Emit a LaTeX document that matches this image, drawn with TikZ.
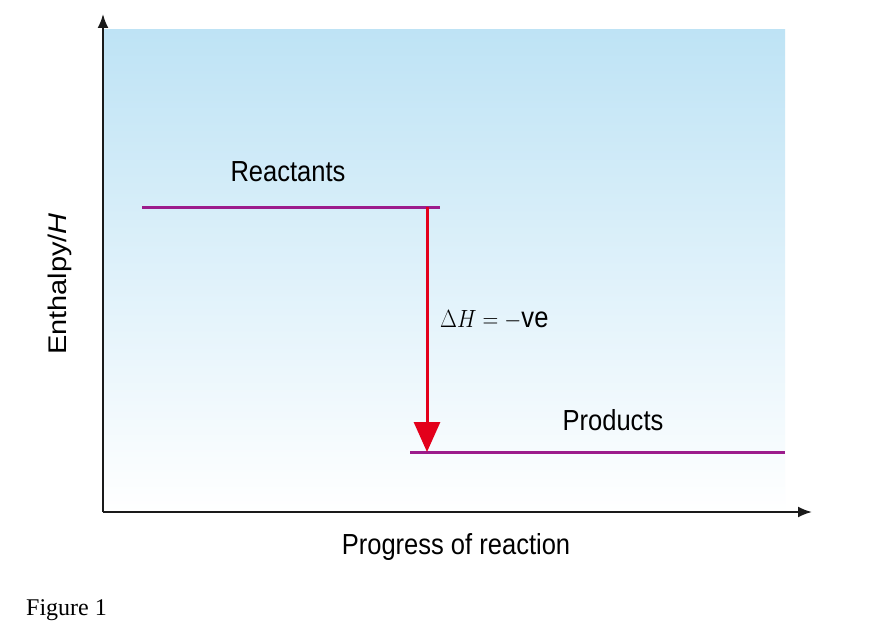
\documentclass[tikz,border=0pt]{standalone}
\usepackage{fontspec}
\setmainfont{Liberation Sans}
\newfontfamily\seriffam{Liberation Serif}
\usetikzlibrary{arrows.meta}
\definecolor{skyb}{HTML}{BEE3F5}
\definecolor{levelc}{HTML}{9C1C8C}
\definecolor{arrc}{HTML}{E3001B}
\definecolor{axc}{HTML}{1A1A1A}
\tikzset{lbl/.style={font=\fontsize{29}{31}\selectfont, inner sep=0pt, xscale=0.88, yscale=1},
 level/.style={levelc, line width=3pt},
 axis/.style={axc, line width=2pt, -{Latex[length=14pt,width=11pt]}}}
\begin{document}
\begin{tikzpicture}[x=1pt,y=-1pt]
\useasboundingbox (0,0) rectangle (890,642);
\fill[white] (0,0) rectangle (890,642);
\shade[top color=skyb, bottom color=white] (103,30) rectangle (785,512);
\coordinate (O) at (103,512);
\coordinate (ytop) at (103,14);
\coordinate (xend) at (812,512);
\draw[axis] (O) -- (ytop);
\draw[axis] (O) -- (xend);
\coordinate (r1) at (142,207); \coordinate (r2) at (440,207);
\coordinate (p1) at (410,452); \coordinate (p2) at (785,452);
\draw[level] (r1) -- (r2);
\draw[level] (p1) -- (p2);
\coordinate (a1) at (427,207); \coordinate (a2) at (427,452);
\draw[arrc, line width=3pt, -{Triangle[length=30pt,width=26pt]}] (a1) -- (a2);
\node[lbl] (react) at (288,172) {Reactants};
\node[lbl] (prod) at (613,420) {Products};
\node[lbl, anchor=west] (dh) at (440,320) {$\Delta H = -$ve};
\node[lbl, rotate=90] (ylab) at (60,284) {Enthalpy/\textit{H}};
\node[lbl] (xlab) at (456,547) {Progress of reaction};
\node[font=\seriffam\fontsize{24}{26}\selectfont, inner sep=0pt, anchor=west] (fig) at (26,610) {Figure 1};
\end{tikzpicture}
\end{document}
